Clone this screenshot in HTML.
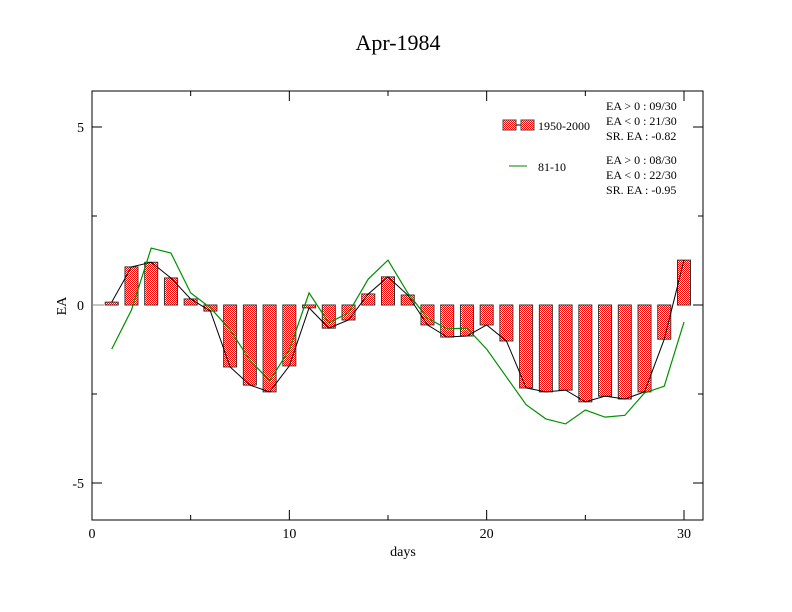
<!DOCTYPE html>
<html><head><meta charset="utf-8"><style>
html,body{margin:0;padding:0;background:#fff;}
svg{display:block;font-family:"Liberation Serif",serif;}
</style></head><body>
<svg id="chart" width="792" height="612" xmlns="http://www.w3.org/2000/svg">
<defs>
<pattern id="chk" width="2" height="2" patternUnits="userSpaceOnUse">
<rect width="2" height="2" fill="#fff"/><rect width="1" height="1" fill="#ff0000"/><rect x="1" y="1" width="1" height="1" fill="#ff0000"/>
</pattern>
</defs>
<text x="398" y="50" font-size="22" text-anchor="middle">Apr-1984</text>
<rect x="92" y="91" width="611" height="429" fill="none" stroke="#000" stroke-width="1"/>
<g id="axes"></g>
<g id="bars"></g>
<g id="lines"></g>
<text x="403" y="556" font-size="14" text-anchor="middle">days</text>
<text x="66" y="306" font-size="14" text-anchor="middle" transform="rotate(-90 66 306)">EA</text>
<g font-size="12">
<rect x="503" y="120" width="13" height="10" fill="url(#chk)" stroke="#444"/>
<line x1="516" y1="125" x2="521" y2="125" stroke="#000"/>
<rect x="521" y="120" width="13" height="10" fill="url(#chk)" stroke="#444"/>
<text x="538" y="130">1950-2000</text>
<line x1="509" y1="166" x2="527" y2="166" stroke="#008000"/>
<text x="538" y="171">81-10</text>
<text x="606" y="110">EA &gt; 0 : 09/30</text>
<text x="606" y="125">EA &lt; 0 : 21/30</text>
<text x="606" y="140">SR. EA : -0.82</text>
<text x="606" y="164">EA &gt; 0 : 08/30</text>
<text x="606" y="179">EA &lt; 0 : 22/30</text>
<text x="606" y="194">SR. EA : -0.95</text>
</g>
</svg>
<script>
const days = [1,2,3,4,5,6,7,8,9,10,11,12,13,14,15,16,17,18,19,20,21,22,23,24,25,26,27,28,29,30];
const barValues = [0.08,1.07,1.2,0.76,0.17,-0.17,-1.74,-2.25,-2.44,-1.71,-0.08,-0.65,-0.42,0.31,0.79,0.28,-0.56,-0.9,-0.87,-0.56,-1.01,-2.33,-2.44,-2.39,-2.72,-2.56,-2.64,-2.44,-0.96,1.26];
const lineValues = [-1.24,-0.14,1.6,1.46,0.34,-0.08,-0.7,-1.55,-2.13,-1.26,0.34,-0.5,-0.22,0.73,1.26,0.34,-0.37,-0.67,-0.65,-1.24,-2.02,-2.8,-3.2,-3.34,-2.95,-3.15,-3.1,-2.47,-2.28,-0.48];
const xTicks = [0,10,20,30];
const xMinor = [5,15,25];
const yTicks = [-5,0,5];
const yMinor = [-2.5,2.5];
const yTickLabels = ["-5","0","5"];

const NS = "http://www.w3.org/2000/svg";
const X0=92, X1=703, Y0=91, Y1=520;
function xs(v){ return 92 + v*(684-92)/30; }
function ys(v){ return 305 - v*35.6; }
function mk(tag, attrs, parent){
  const e=document.createElementNS(NS,tag);
  for(const k in attrs) e.setAttribute(k,attrs[k]);
  parent.appendChild(e); return e;
}
const axes=document.getElementById('axes');
xTicks.forEach(t=>{
  const x=xs(t);
  const a=mk('line',{x1:x,y1:Y1,x2:x,y2:Y1-10,stroke:'#000'},axes);
  
  
  mk('line',{x1:x,y1:Y0,x2:x,y2:Y0+10,stroke:'#000'},axes);
  const tx=mk('text',{x:x,y:538,'font-size':14,'text-anchor':'middle'},axes);
  tx.textContent=String(t);
  
  
});
xMinor.forEach(t=>{
  const x=xs(t);
  mk('line',{x1:x,y1:Y1,x2:x,y2:Y1-5,stroke:'#000'},axes);
  mk('line',{x1:x,y1:Y0,x2:x,y2:Y0+5,stroke:'#000'},axes);
});
yTicks.forEach((t,i)=>{
  const y=ys(t);
  const a=mk('line',{x1:X0,y1:y,x2:X0+10,y2:y,stroke:'#000'},axes);
  
  
  mk('line',{x1:X1,y1:y,x2:X1-10,y2:y,stroke:'#000'},axes);
  const tx=mk('text',{x:84,y:y+5,'font-size':14,'text-anchor':'end'},axes);
  tx.textContent=yTickLabels[i];
  
  
});
yMinor.forEach(t=>{
  const y=ys(t);
  mk('line',{x1:X0,y1:y,x2:X0+5,y2:y,stroke:'#000'},axes);
  mk('line',{x1:X1,y1:y,x2:X1-5,y2:y,stroke:'#000'},axes);
});
const bars=document.getElementById('bars');
mk('line',{x1:X0,y1:ys(0),x2:X0+12,y2:ys(0),stroke:'#888'},bars);
days.forEach((d,i)=>{
  const v=barValues[i]; const x=xs(d);
  const y=Math.min(ys(v),ys(0)); const h=Math.abs(ys(v)-ys(0));
  const r=mk('rect',{x:x-6.5,y:y,width:13,height:Math.max(h,1),fill:'url(#chk)',stroke:'#333','stroke-width':1},bars);
  
  
});
const lines=document.getElementById('lines');
const bl=mk('polyline',{points:days.map((d,i)=>xs(d)+','+ys(barValues[i])).join(' '),fill:'none',stroke:'#000','stroke-width':1},lines);


const gl=mk('polyline',{points:days.map((d,i)=>xs(d)+','+ys(lineValues[i])).join(' '),fill:'none',stroke:'#009000','stroke-width':1.2},lines);


</script>
</body></html>
